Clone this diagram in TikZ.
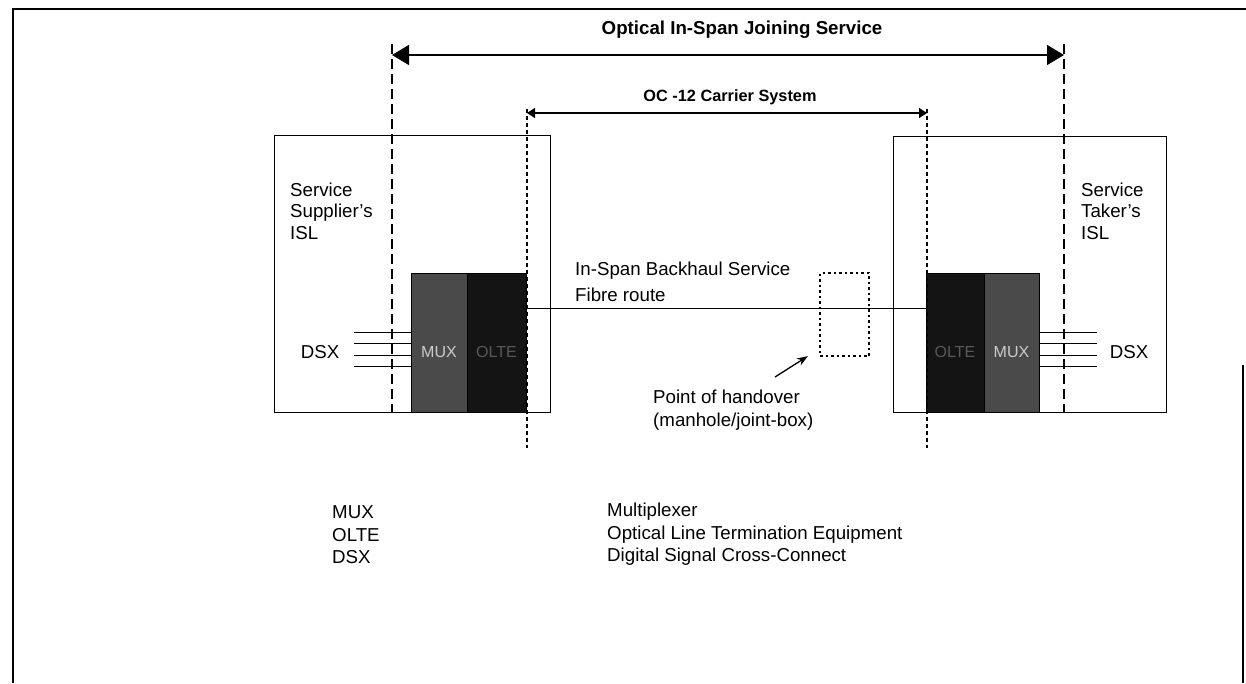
\documentclass[tikz,border=0pt]{standalone}
\usepackage{fontspec}
\setmainfont{Liberation Sans}
\usetikzlibrary{arrows.meta}

\definecolor{muxgray}{HTML}{4A4A4A}
\definecolor{oltegray}{HTML}{141414}

\begin{document}
\begin{tikzpicture}[x=1pt,y=-1pt,
  lbl/.style={font=\fontsize{18.7}{21.5}\selectfont, inner sep=0pt},
  blk/.style={draw=black, minimum height=139pt, inner sep=0pt, anchor=north west}]
\useasboundingbox (0,0) rectangle (1246,683);
\draw[line width=1.6pt] (13,683) -- (13,9) -- (1246,9);
\draw[line width=1.2pt] (1243,365) -- (1243,683);

\node[font=\bfseries\fontsize{18.7}{22}\selectfont] (title) at (742,30) {Optical In-Span Joining Service};
\node[font=\bfseries\fontsize{16.3}{19}\selectfont] (octitle) at (730,97) {OC -12 Carrier System};

\draw[line width=0.9pt] (274,135) rectangle (550,412);
\draw[line width=0.9pt] (893,136) rectangle (1166,412);

\node[blk, fill=muxgray, minimum width=56pt] (muxL) at (411,273) {};
\node[blk, fill=oltegray, minimum width=59pt] (olteL) at (467,273) {};
\node[blk, fill=oltegray, minimum width=58pt] (olteR) at (926,273) {};
\node[blk, fill=muxgray, minimum width=55pt] (muxR) at (984,273) {};
\node[lbl, font=\fontsize{16}{18}\selectfont, text=black!20] at (439,352) {MUX};
\node[lbl, font=\fontsize{16}{18}\selectfont, text=black!65] at (496.5,352) {OLTE};
\node[lbl, font=\fontsize{16}{18}\selectfont, text=black!65] at (955,352) {OLTE};
\node[lbl, font=\fontsize{16}{18}\selectfont, text=black!20] at (1011.5,352) {MUX};

\coordinate (supT) at (392,44);
\coordinate (supB) at (392,412);
\coordinate (takT) at (1064,44);
\coordinate (takB) at (1064,412);
\coordinate (ocLT) at (527,109);
\coordinate (ocLB) at (527,448);
\coordinate (ocRT) at (927,109);
\coordinate (ocRB) at (927,448);
\draw[line width=1.5pt, dash pattern=on 10pt off 5pt] (supT) -- (supB);
\draw[line width=1.5pt, dash pattern=on 10pt off 5pt] (takT) -- (takB);
\draw[line width=1.5pt, dash pattern=on 4pt off 3pt] (ocLT) -- (ocLB);
\draw[line width=1.5pt, dash pattern=on 4pt off 3pt] (ocRT) -- (ocRB);

\coordinate (svcL) at (392,55);
\coordinate (svcR) at (1064,55);
\coordinate (ocL) at (527,113);
\coordinate (ocR) at (927,113);
\draw[line width=1.4pt, {Triangle[length=17pt,width=20pt]}-{Triangle[length=17pt,width=20pt]}] (svcL) -- (svcR);
\draw[line width=1.3pt, {Triangle[length=8pt,width=10pt]}-{Triangle[length=8pt,width=10pt]}] (ocL) -- (ocR);

\coordinate (fibL) at (526,308);
\coordinate (fibR) at (926,308);
\draw[line width=1pt] (fibL) -- (fibR);
\node[draw, line width=2.2pt, dash pattern=on 2.5pt off 3pt, minimum width=49pt, minimum height=83pt, inner sep=0pt] (hand) at (844.5,314.5) {};

\foreach \y in {332,343,355,366} {
  \draw[line width=1pt] (354,\y) -- (muxL.west |- 0,\y);
  \draw[line width=1pt] (muxR.east |- 0,\y) -- (1097,\y);
}

\node[lbl, anchor=west, align=left] (supplier) at (290,211) {Service\\Supplier's\\ISL};
\node[lbl, anchor=west, align=left] (taker) at (1081,211) {Service\\Taker's\\ISL};
\node[lbl] (dsxL) at (320,352) {DSX};
\node[lbl] (dsxR) at (1129,352) {DSX};

\node[lbl, anchor=west] (route1) at (575,271) {In-Span Backhaul Service};
\node[lbl, anchor=west] (route2) at (575,295) {Fibre route};
\node[lbl, anchor=west] (point1) at (653,397) {Point of handover};
\node[lbl, anchor=west] (point2) at (653,422) {(manhole/joint-box)};
\coordinate (handTail) at (775,377);
\draw[line width=1.3pt, -{Stealth[length=11pt,width=8pt]}] (handTail) -- ([xshift=-11pt,yshift=1pt]hand.south west);

\node[lbl, anchor=west] (kMux) at (332,512) {MUX};
\node[lbl, anchor=west] (kOlte) at (332,535) {OLTE};
\node[lbl, anchor=west] (kDsx) at (332,557) {DSX};
\node[lbl, anchor=west] (vMux) at (607,512) {Multiplexer};
\node[lbl, anchor=west] (vOlte) at (607,535) {Optical Line Termination Equipment};
\node[lbl, anchor=west] (vDsx) at (607,557) {Digital Signal Cross-Connect};
\end{tikzpicture}
\end{document}
